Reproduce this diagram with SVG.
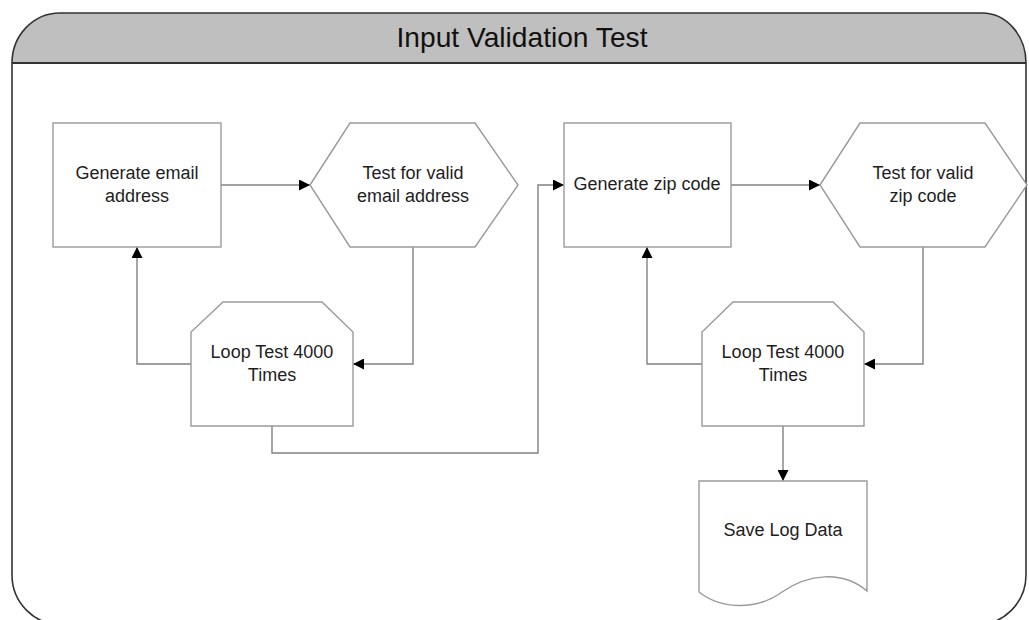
<svg xmlns="http://www.w3.org/2000/svg" width="1029" height="620" viewBox="0 0 1029 620">
  <style>
    .shape { fill: #ffffff; stroke: #9a9a9a; stroke-width: 1.4; }
    .conn { fill: none; stroke: #808080; stroke-width: 1.4; }
    .label { font-family: "Liberation Sans", Arial, sans-serif; font-size: 18px; fill: #1e1e1e; text-anchor: middle; }
    .title { font-family: "Liberation Sans", Arial, sans-serif; font-size: 28px; fill: #111111; text-anchor: middle; }
  </style>
  <defs>
    <marker id="arrow" viewBox="0 0 10 10" refX="10" refY="5" markerWidth="11" markerHeight="11" markerUnits="userSpaceOnUse" orient="auto">
      <path d="M0,0 L10,5 L0,10 Z" fill="#000000"/>
    </marker>
  </defs>

  <rect x="0" y="0" width="1029" height="620" fill="#ffffff"/>

  <!-- swimlane frame with title band -->
  <g id="frame">
    <path d="M12,63 A48,50 0 0 1 60,13 L982,13 A44,50 0 0 1 1026,63 Z" fill="#bfbfbf"/>
    <path d="M12,63 L12,575 A50,50 0 0 0 62,625 L976,625 A50,50 0 0 0 1026,575 L1026,63 A44,50 0 0 0 982,13 L60,13 A48,50 0 0 0 12,63 Z" fill="none" stroke="#333333" stroke-width="1.6"/>
    <line x1="12" y1="63" x2="1026" y2="63" stroke="#333333" stroke-width="2"/>
    <text class="title" x="522" y="47" textLength="251" lengthAdjust="spacingAndGlyphs">Input Validation Test</text>
  </g>

  <!-- connectors -->
  <g id="connectors">
    <path class="conn" d="M221,185 H310" marker-end="url(#arrow)"/>
    <path class="conn" d="M413,247 V364 H353" marker-end="url(#arrow)"/>
    <path class="conn" d="M191,364 H137 V247" marker-end="url(#arrow)"/>
    <path class="conn" d="M272,426 V453 H538 V185 H564" marker-end="url(#arrow)"/>
    <path class="conn" d="M731,185 H820" marker-end="url(#arrow)"/>
    <path class="conn" d="M923,247 V364 H864" marker-end="url(#arrow)"/>
    <path class="conn" d="M702,364 H647 V247" marker-end="url(#arrow)"/>
    <path class="conn" d="M783,426 V481" marker-end="url(#arrow)"/>
  </g>

  <g id="gen-email">
    <rect class="shape" x="53" y="123" width="168" height="124"/>
    <text class="label" x="137" y="179">Generate email</text>
    <text class="label" x="137" y="202">address</text>
  </g>

  <g id="test-email">
    <polygon class="shape" points="310,185 350,123 475,123 518,185 475,247 350,247"/>
    <text class="label" x="413" y="179">Test for valid</text>
    <text class="label" x="413" y="202">email address</text>
  </g>

  <g id="loop-email">
    <polygon class="shape" points="191,426 191,332 223,302 322,302 353,332 353,426"/>
    <text class="label" x="272" y="358">Loop Test 4000</text>
    <text class="label" x="272" y="381">Times</text>
  </g>

  <g id="gen-zip">
    <rect class="shape" x="564" y="123" width="167" height="124"/>
    <text class="label" x="647" y="190">Generate zip code</text>
  </g>

  <g id="test-zip">
    <polygon class="shape" points="820,185 860,123 985,123 1027,185 985,247 860,247"/>
    <text class="label" x="923" y="179">Test for valid</text>
    <text class="label" x="923" y="202">zip code</text>
  </g>

  <g id="loop-zip">
    <polygon class="shape" points="702,426 702,332 733,302 833,302 864,332 864,426"/>
    <text class="label" x="783" y="358">Loop Test 4000</text>
    <text class="label" x="783" y="381">Times</text>
  </g>

  <g id="save-log">
    <path class="shape" d="M699,481 H867 V591 C842,570 808,574 782,592 C757,610 722,610 699,592 Z"/>
    <text class="label" x="783" y="536">Save Log Data</text>
  </g>
</svg>
